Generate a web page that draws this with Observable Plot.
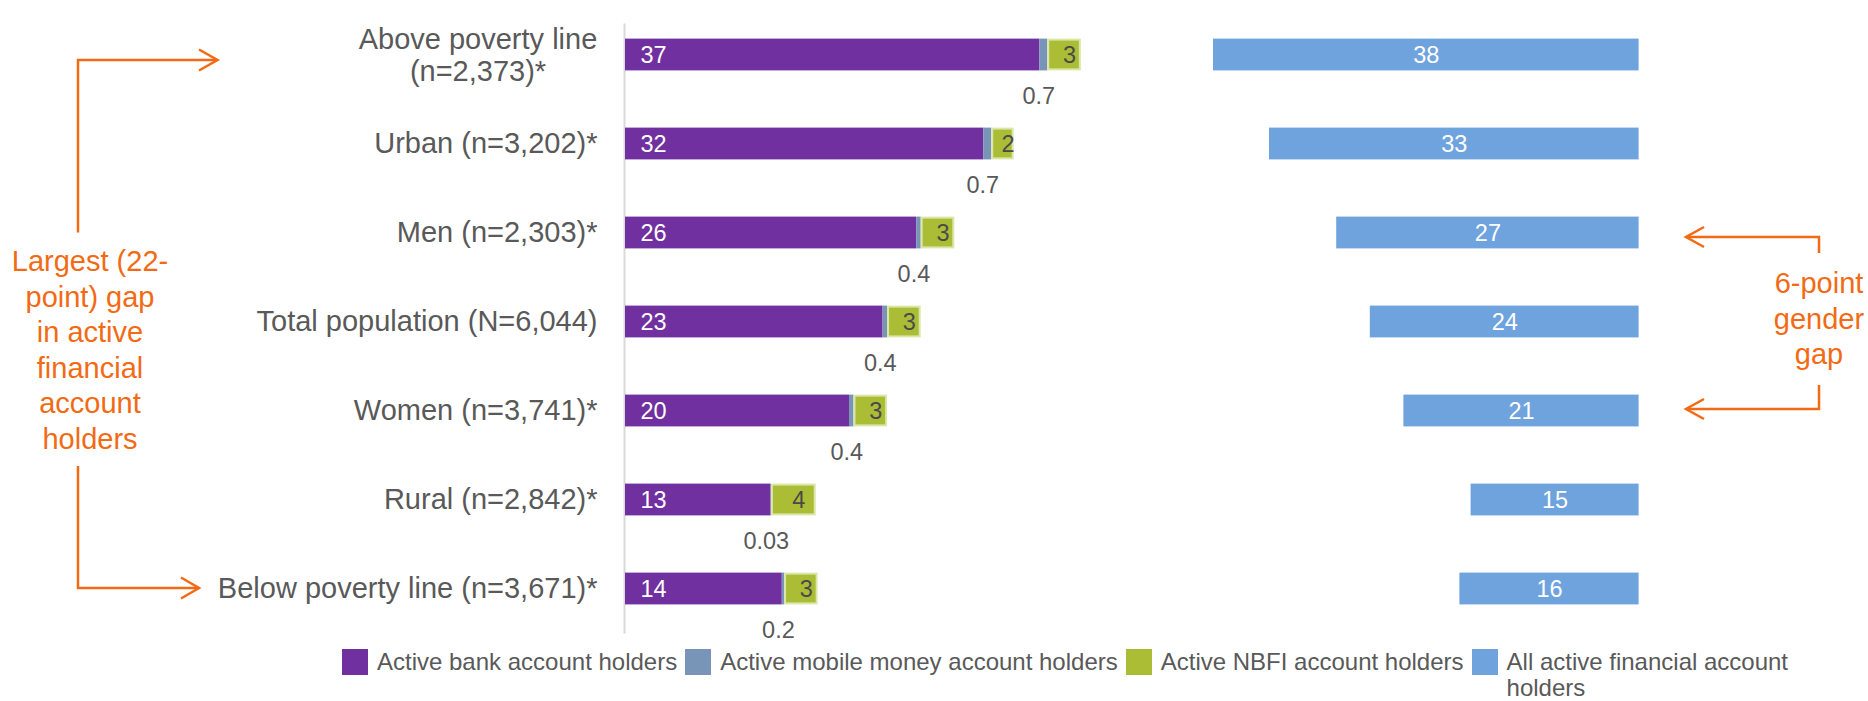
<!DOCTYPE html>
<html><head><meta charset="utf-8">
<script src="https://cdn.jsdelivr.net/npm/d3@7"></script>
<script src="https://cdn.jsdelivr.net/npm/@observablehq/plot@0.6"></script>
<style>
body{margin:0;background:#fff;font-family:"Liberation Sans",Arial,sans-serif;}
#chart{position:relative;width:1868px;height:701px;overflow:hidden;}
#chart svg{overflow:visible;}
.legend{position:absolute;left:342px;top:649px;display:flex;align-items:flex-start;font-size:24px;color:#595959;line-height:26px;}
.item{display:flex;align-items:flex-start;margin-right:8px;}
.sw{width:26px;height:26px;margin-right:9px;flex:none;}
</style></head><body><div id="chart"></div>
<script>
// ---- data ----
const categories = [
  "Above poverty line\n(n=2,373)*",
  "Urban (n=3,202)*",
  "Men (n=2,303)*",
  "Total population (N=6,044)",
  "Women (n=3,741)*",
  "Rural (n=2,842)*",
  "Below poverty line (n=3,671)*"
];
const bankValues   = [37, 32, 26, 23, 20, 13, 14];
const mobileValues = [0.7, 0.7, 0.4, 0.4, 0.4, 0.03, 0.2];
const nbfiValues   = [3, 2, 3, 3, 3, 4, 3];
const allValues    = [38, 33, 27, 24, 21, 15, 16];
const seriesNames = ["Active bank account holders", "Active mobile money account holders", "Active NBFI account holders", "All active financial account holders"];
const seriesColors = ["#7030A0", "#7895B8", "#AABD35", "#6FA3DE"];

const rows = categories.map((cat, i) => ({
  cat, bank: bankValues[i], mobile: mobileValues[i], nbfi: nbfiValues[i], all: allValues[i]
}));

const RIGHT_END = 90.5;      // right-hand panel bars end here (x units)
const GRAY = "#595959";
const ORANGE = "#F26A14";
const FONT = '"Liberation Sans", Arial, sans-serif';
const inset = 28.6;

const plot = Plot.plot({
  width: 1868, height: 645,
  marginLeft: 625, marginRight: 123, marginTop: 9.4, marginBottom: 11.4,
  x: {domain: [0, 100], axis: null},
  y: {domain: categories, padding: 0, axis: null},
  style: {fontFamily: FONT, background: "white", overflow: "visible"},
  marks: [
    Plot.ruleX([0], {stroke: "#d9d9d9", strokeWidth: 2, insetTop: 14, dx: -1}),
    // stacked left panel
    Plot.barX(rows, {x1: 0, x2: d => d.bank, y: "cat", fill: seriesColors[0], insetTop: inset, insetBottom: inset}),
    Plot.barX(rows, {x1: d => d.bank, x2: d => d.bank + d.mobile, y: "cat", fill: seriesColors[1], insetTop: inset, insetBottom: inset}),
    Plot.barX(rows, {x1: d => d.bank + d.mobile, x2: d => d.bank + d.mobile + d.nbfi, y: "cat", fill: seriesColors[2], stroke: "#dbe7a9", strokeWidth: 2, insetTop: inset + 1, insetBottom: inset + 1, insetLeft: 1, insetRight: 1}),
    // right panel
    Plot.barX(rows, {x1: d => RIGHT_END - d.all, x2: RIGHT_END, y: "cat", fill: seriesColors[3], insetTop: inset, insetBottom: inset}),
    // category labels
    Plot.text(rows.slice(1), {x: 0, y: "cat", text: "cat", textAnchor: "end", dx: -28, fontSize: 29, fill: GRAY}),
    Plot.text(rows.slice(0, 1), {x: 0, y: "cat", text: "cat", textAnchor: "middle", dx: -147.5, lineHeight: 1.1, fontSize: 29, fill: GRAY}),
    // value labels
    Plot.text(rows, {x: 0, y: "cat", text: d => String(d.bank), textAnchor: "start", dx: 15, fontSize: 23.5, fill: "white"}),
    Plot.text(rows, {x: d => d.bank + d.mobile + d.nbfi / 2, y: "cat", text: d => String(d.nbfi), dx: 5, fontSize: 23.5, fill: "#4a4a4a"}),
    Plot.text(rows, {x: d => d.bank + d.mobile / 2, y: "cat", text: d => String(d.mobile), dx: -5, dy: 41, fontSize: 23.5, fill: GRAY}),
    Plot.text(rows, {x: d => RIGHT_END - d.all / 2, y: "cat", text: d => String(d.all), fontSize: 23.5, fill: "white"})
  ]
});

const chart = document.getElementById("chart");
chart.appendChild(plot);

// ---- annotations (orange brackets & text) ----
const svg = d3.select(plot);
const g = svg.append("g").attr("fill", "none").attr("stroke", ORANGE).attr("stroke-width", 2.5);
const paths = [
  "M78,232.5V60H217.5", "M199,49.5L217.5,60L199,70.5",
  "M78,466V588H199", "M181,577.5L199,588L181,598.5",
  "M1819,253V237H1686", "M1704,227L1686,237L1704,247",
  "M1819,385V409H1686", "M1704,399L1686,409L1704,419"
];
paths.forEach(p => g.append("path").attr("d", p));
const tg = svg.append("g").attr("fill", ORANGE).attr("font-size", 29).attr("text-anchor", "middle").attr("font-family", FONT);
const leftNote = ["Largest (22-", "point) gap", "in active", "financial", "account", "holders"];
leftNote.forEach((t, i) => tg.append("text").attr("x", 90).attr("y", 261 + 35.5 * i).attr("dy", "0.35em").text(t));
const rightNote = ["6-point", "gender", "gap"];
rightNote.forEach((t, i) => tg.append("text").attr("x", 1819).attr("y", 283 + 35.5 * i).attr("dy", "0.35em").text(t));

// ---- legend ----
const legend = document.createElement("div");
legend.className = "legend";
seriesNames.forEach((name, i) => {
  const item = document.createElement("div");
  item.className = "item";
  const sw = document.createElement("div");
  sw.className = "sw";
  sw.style.background = seriesColors[i];
  const tx = document.createElement("div");
  tx.textContent = name;
  if (i === seriesNames.length - 1) tx.style.maxWidth = "300px";
  item.appendChild(sw); item.appendChild(tx);
  legend.appendChild(item);
});
chart.appendChild(legend);
</script></body></html>
